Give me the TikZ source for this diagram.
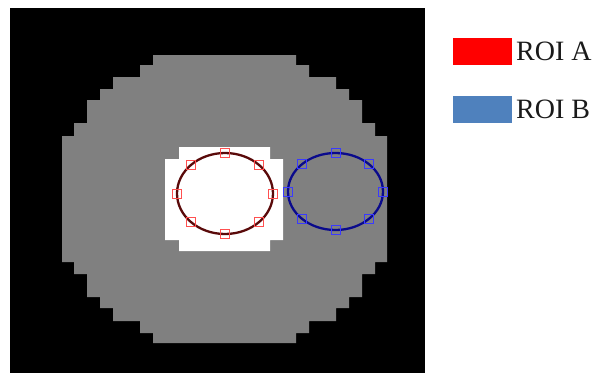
\documentclass[tikz,border=0pt]{standalone}
\usepackage{fontspec}
\setmainfont{Liberation Serif}
\definecolor{phantgray}{HTML}{808080}
\definecolor{roiAline}{HTML}{5A0A0A}
\definecolor{roiBline}{HTML}{0A0A8C}
\definecolor{roiAmark}{HTML}{FF5050}
\definecolor{roiBmark}{HTML}{3A3AFF}
\definecolor{legA}{HTML}{FF0000}
\definecolor{legB}{HTML}{4F81BD}
\definecolor{legtext}{HTML}{1A1A1A}
\begin{document}
\begin{tikzpicture}[x=1pt,y=-1pt,
  markA/.style={draw=roiAmark,line width=1pt,minimum size=9pt,inner sep=0pt,shape=rectangle},
  markB/.style={draw=roiBmark,line width=1pt,minimum size=9pt,inner sep=0pt,shape=rectangle},
  legbox/.style={minimum width=59pt,minimum height=27pt,inner sep=0pt,shape=rectangle,anchor=north west},
  legtxt/.style={anchor=base west,inner sep=0pt,text=legtext,font=\fontsize{28}{32}\selectfont}]
\useasboundingbox (0,0) rectangle (595,373);
% black background
\fill[black] (10,8) rectangle (425,373);
% gray disc (stepped)
\fill[phantgray] (153,55) -- (296,55) -- (296,65) -- (309,65) -- (309,77) -- (336,77) -- (336,89) -- (349,89) -- (349,100) -- (362,100) -- (362,123) -- (375,123) -- (375,136) -- (387,136) -- (387,262) -- (375,262) -- (375,274) -- (362,274) -- (362,297) -- (349,297) -- (349,308) -- (336,308) -- (336,321) -- (309,321) -- (309,333) -- (296,333) -- (296,343) -- (153,343) -- (153,333) -- (140,333) -- (140,321) -- (113,321) -- (113,308) -- (100,308) -- (100,297) -- (87,297) -- (87,274) -- (74,274) -- (74,262) -- (62,262) -- (62,136) -- (74,136) -- (74,123) -- (87,123) -- (87,100) -- (100,100) -- (100,89) -- (113,89) -- (113,77) -- (140,77) -- (140,65) -- (153,65) -- cycle;
% white insert
\fill[white] (179,147) -- (270,147) -- (270,159) -- (283,159) -- (283,240) -- (270,240) -- (270,251) -- (179,251) -- (179,240) -- (165,240) -- (165,159) -- (179,159) -- cycle;
% ROI A
\draw[roiAline,line width=2.3pt] (225,193.5) ellipse [x radius=48pt, y radius=40.5pt];
\foreach \a [count=\i] in {0,45,...,315}
  \node[markA] (ma\i) at ({225+48*cos(\a)},{193.5+40.5*sin(\a)}) {};
% ROI B
\draw[roiBline,line width=2.3pt] (335.5,191.5) ellipse [x radius=47.5pt, y radius=38.5pt];
\foreach \a [count=\i] in {0,45,...,315}
  \node[markB] (mb\i) at ({335.5+47.5*cos(\a)},{191.5+38.5*sin(\a)}) {};
% legend
\node[legbox,fill=legA] (la) at (453,38) {};
\node[legbox,fill=legB] (lb) at (453,96) {};
\node[legtxt] (ta) at (516,60) {ROI A};
\node[legtxt] (tb) at (516,118) {ROI B};
\end{tikzpicture}
\end{document}
